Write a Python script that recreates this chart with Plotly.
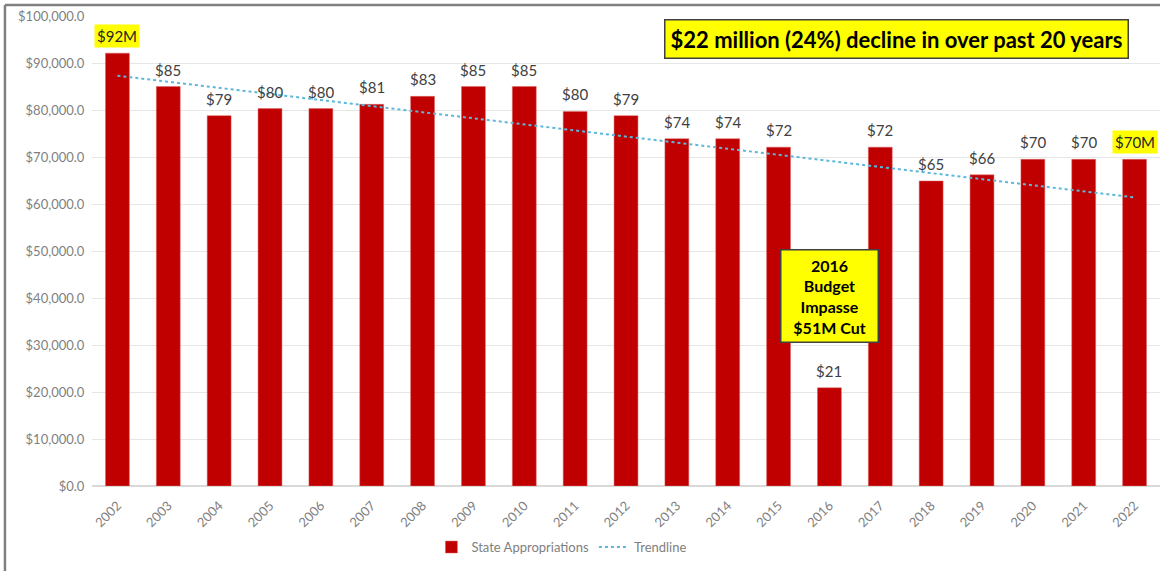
import plotly.graph_objects as go

years = list(range(2002, 2023))
year_labels = [str(y) for y in years]
appropriations = [92100, 85000, 78800, 80300, 80300, 81200, 82900, 85000, 85000, 79700,
                  78800, 73900, 73900, 72100, 20900, 72100, 64900, 66200, 69500, 69500, 69500]
labels = ["$92M", "$85", "$79", "$80", "$80", "$81", "$83", "$85", "$85", "$80",
          "$79", "$74", "$74", "$72", "$21", "$72", "$65", "$66", "$70", "$70", "$70M"]
highlight = [True] + [False] * 19 + [True]
trend_years = [2002, 2022]
trend_values = [87300, 61400]
y_ticks = list(range(0, 100001, 10000))

FONT = "Lato, Carlito, sans-serif"

fig = go.Figure()
fig.add_trace(go.Bar(x=years, y=appropriations, name="State Appropriations",
                     marker=dict(color="#C00000", line=dict(color="#E06666", width=0.5)),
                     width=0.47))
fig.add_trace(go.Scatter(x=trend_years, y=trend_values, mode="lines", name="Trendline",
                         line=dict(color="#5BB8DA", width=2, dash="dot")))

ann = []
for x, v, t, h in zip(years, appropriations, labels, highlight):
    ann.append(dict(x=x, y=v, text=t, showarrow=False, xref="x", yref="y",
                    yanchor="bottom", yshift=5,
                    font=dict(family=FONT, size=15,
                              color="#262626" if h else "#404040"),
                    bgcolor="#FFFF00" if h else None, borderpad=2))
ann.append(dict(x=0.753, y=0.952, xref="paper", yref="paper", showarrow=False,
                text="<b>$22 million (24%) decline in over past 20 years</b>",
                font=dict(family=FONT, size=22, color="#000000"),
                bgcolor="#FFFF00", bordercolor="#404040", borderwidth=1.5,
                borderpad=5, xanchor="center", yanchor="middle"))
ann.append(dict(x=2016, y=40500, xref="x", yref="y", showarrow=False,
                text="<b>2016<br>Budget<br>Impasse<br>$51M Cut</b>",
                font=dict(family=FONT, size=16, color="#000000"),
                bgcolor="#FFFF00", bordercolor="#404040", borderwidth=1.5,
                borderpad=5, width=86, align="center", xanchor="center", yanchor="middle"))

fig.update_layout(
    width=1169, height=571,
    margin=dict(l=92, r=9, t=16, b=85),
    paper_bgcolor="white", plot_bgcolor="white",
    annotations=ann,
    showlegend=True,
    legend=dict(orientation="h", x=0.44, y=-0.13, xanchor="center", yanchor="middle",
                font=dict(family=FONT, size=13, color="#808080")),
    xaxis=dict(range=[2001.5, 2022.5], tickmode="array", tickvals=years, ticktext=year_labels,
               tickangle=-45, showgrid=False, showline=False, zeroline=False,
               ticks="outside", ticklen=6, tickcolor="rgba(0,0,0,0)",
               tickfont=dict(family=FONT, size=13, color="#7f7f7f")),
    yaxis=dict(range=[0, 100000], tickvals=y_ticks, tickformat="$,.1f",
               showgrid=True, gridcolor="#E6E6E6", gridwidth=1, zeroline=True,
               zerolinecolor="#D9D9D9", showline=False,
               ticks="outside", ticklen=4, tickcolor="rgba(0,0,0,0)",
               tickfont=dict(family=FONT, size=13, color="#7f7f7f")),
    shapes=[dict(type="line", xref="paper", yref="paper", x0=-0.0815, x1=-0.0815,
                 y0=1.0234, y1=-0.2, line=dict(color="#808080", width=2.5)),
            dict(type="line", xref="paper", yref="paper", x0=-0.0815, x1=1.0,
                 y0=1.0234, y1=1.0234, line=dict(color="#808080", width=2.5))],
)
fig.write_html("out.html", config={"displayModeBar": False},
               post_script="document.body.style.margin='0';document.body.style.overflow='hidden';")
